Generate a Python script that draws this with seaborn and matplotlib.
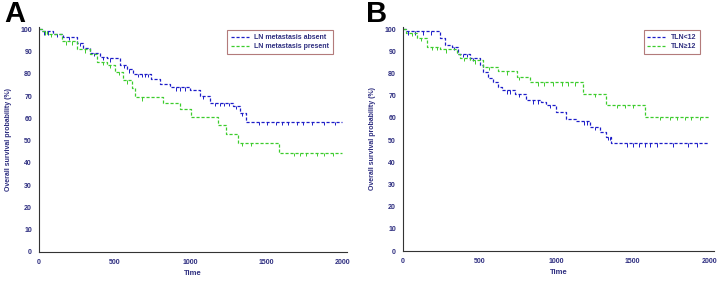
import matplotlib.pyplot as plt
import numpy as np
import pandas as pd
import seaborn as sns

# ---- data ----
# panel A: LN metastasis; s[i] is the survival level from t[i] on
a_absent_t = [0, 20, 94, 160, 248, 292, 336, 401, 445, 533, 577, 620, 741, 796, 862, 993, 1059, 1125, 1278, 1322, 1366, 2000]
a_absent_s = [100, 99, 98, 96.5, 94, 91.5, 89.5, 87.5, 87, 84, 82, 80, 77.5, 75.5, 74, 72.5, 70, 67, 65.5, 62.5, 58.5, 58.5]
a_absent_c = [30, 60, 120, 200, 270, 360, 420, 470, 560, 590, 650, 680, 700, 720, 900, 930, 960, 1080, 1160, 1190, 1220, 1250,
              1300, 1340, 1450, 1500, 1560, 1600, 1640, 1700, 1740, 1800, 1880, 1950]
a_present_t = [0, 20, 50, 149, 248, 336, 380, 445, 500, 555, 610, 632, 818, 928, 1004, 1180, 1235, 1311, 1585, 2000]
a_present_s = [100, 99, 98, 94.5, 91, 89, 85.5, 84, 81, 77, 73.5, 69.5, 67, 64, 60.5, 57, 53, 49, 44.5, 44.5]
a_present_c = [40, 80, 180, 220, 300, 420, 470, 530, 580, 680, 1340, 1400, 1680, 1720, 1760, 1830, 1880, 1940]

# panel B: total lymph nodes
b_low_t = [0, 20, 241, 274, 317, 360, 436, 502, 523, 556, 588, 621, 643, 730, 806, 903, 936, 1001, 1066, 1132, 1218, 1283,
           1327, 1360, 2000]
b_low_s = [100, 99, 96, 93, 92, 89, 87, 84, 80.5, 78, 76, 74, 72.5, 71, 68, 67, 66, 62.5, 59.5, 58.5, 56, 53.5, 51.5, 48.6,
           48.6]
b_low_c = [30, 80, 130, 180, 330, 390, 420, 460, 680, 700, 760, 850, 880, 960, 1180, 1200, 1250, 1340, 1350,
           1460, 1500, 1540, 1580, 1610, 1660, 1760, 1860, 1920]
b_high_t = [0, 20, 89, 154, 241, 350, 371, 436, 523, 621, 741, 827, 1175, 1327, 1577, 2000]
b_high_s = [100, 98.5, 96, 92, 91, 89, 87, 86, 83, 81, 78.5, 76, 71, 66, 60.5, 60.5]
b_high_c = [60, 120, 190, 220, 280, 400, 470, 560, 680, 760, 880, 920, 980, 1040, 1080, 1120, 1250, 1400, 1450,
            1500, 1680, 1740, 1790, 1840, 1880, 1940]

BLUE = '#1c1cc8'
GREEN = '#3ccc2c'
NAVY = '#2e2e80'


def steps(t, s, c, name):
    df = pd.DataFrame({'Time': t, 'Survival': s, 'group': name})
    idx = np.searchsorted(np.array(t), np.array(c), side='right') - 1
    cen = pd.DataFrame({'Time': c, 'Survival': np.array(s)[idx], 'group': name})
    return df, cen


def panel(ax, curves):
    lines = []
    cens = []
    for t, s, c, name in curves:
        d, ce = steps(t, s, c, name)
        lines.append(d)
        cens.append(ce)
    df = pd.concat(lines)
    cen = pd.concat(cens)
    names = [c[3] for c in curves]
    pal = dict(zip(names, [BLUE, GREEN]))
    sns.lineplot(data=df, x='Time', y='Survival', hue='group', palette=pal, drawstyle='steps-post',
                 estimator=None, sort=False, lw=0.9, ax=ax)
    for l in ax.get_lines():
        l.set_linestyle((0, (2.5, 1.5)))
    sns.scatterplot(data=cen, x='Time', y='Survival', hue='group', palette=pal, marker=3, s=6,
                    linewidth=0.7, legend=False, ax=ax)

    ax.set_xlim(0, 2030)
    ax.set_ylim(0, 101)
    ax.set_xticks([0, 500, 1000, 1500, 2000])
    ax.set_yticks(range(0, 101, 10))
    ax.set_xticks(range(0, 2001, 250), minor=True)
    ax.set_yticks(range(0, 101, 5), minor=True)
    for side in ['top', 'right']:
        ax.spines[side].set_visible(False)
    for side in ['left', 'bottom']:
        ax.spines[side].set_linewidth(0.8)
        ax.spines[side].set_color('#333333')
    ax.tick_params(which='major', length=3, width=0.8, color='#333333', labelsize=5, labelcolor=NAVY, pad=2)
    ax.tick_params(which='minor', length=1.8, width=0.6, color='#333333')
    for lab in ax.get_xticklabels() + ax.get_yticklabels():
        lab.set_fontweight('bold')
    ax.set_xlabel('Time', fontsize=5.5, fontweight='bold', color=NAVY, labelpad=3)
    ax.set_ylabel('Overall survival probability (%)', fontsize=5, fontweight='bold', color=NAVY, labelpad=6)
    ax.grid(False)

    leg = ax.legend(loc='upper right', bbox_to_anchor=(0.965, 1.0), frameon=True, fancybox=False,
                    prop={'size': 5, 'weight': 'bold'}, handlelength=2.6, borderpad=0.5, labelspacing=0.3,
                    handletextpad=0.8)
    leg.get_frame().set_edgecolor('#a05a5a')
    leg.get_frame().set_linewidth(0.8)
    for txt in leg.get_texts():
        txt.set_color(NAVY)
    for h in leg.get_lines():
        h.set_linestyle((0, (2.5, 1.5)))
        h.set_linewidth(0.9)


sns.set_style('white')
plt.rcParams['font.family'] = ['Liberation Sans', 'DejaVu Sans']

fig = plt.figure(figsize=(7.19, 2.81), dpi=100)
ax1 = fig.add_axes([39 / 719, 29 / 281, 308 / 719, 225 / 281])
ax2 = fig.add_axes([403 / 719, 30 / 281, 311 / 719, 224 / 281])

panel(ax1, [(a_absent_t, a_absent_s, a_absent_c, 'LN metastasis absent'),
            (a_present_t, a_present_s, a_present_c, 'LN metastasis present')])
panel(ax2, [(b_low_t, b_low_s, b_low_c, 'TLN<12'),
            (b_high_t, b_high_s, b_high_c, 'TLN\u226512')])

fig.text(4 / 719, 1.0, 'A', fontsize=21, fontweight='bold', color='black', ha='left', va='top')
fig.text(366 / 719, 1.0, 'B', fontsize=21, fontweight='bold', color='black', ha='left', va='top')

fig.savefig('out.png', dpi=100)
